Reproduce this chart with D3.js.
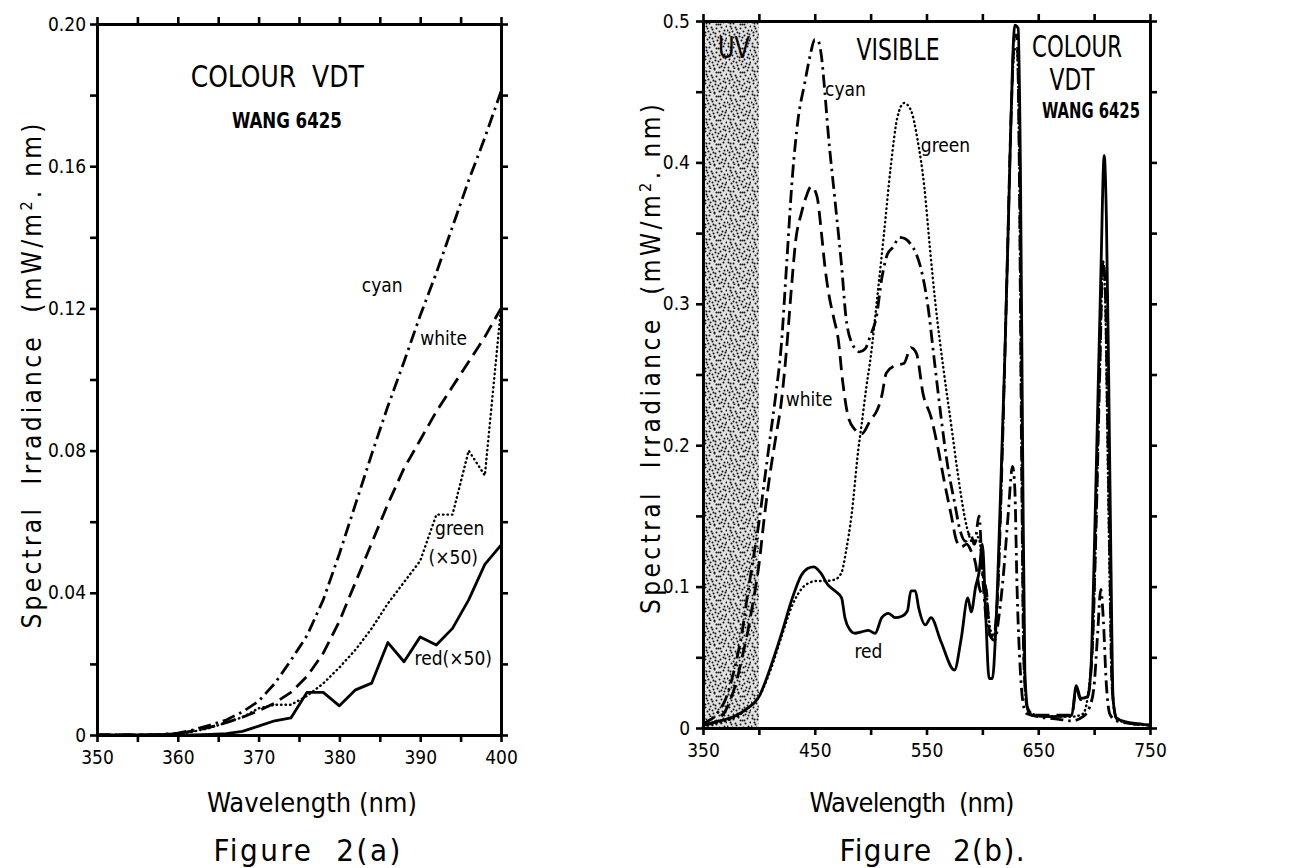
<!DOCTYPE html>
<html>
<head>
<meta charset="utf-8">
<script src="https://cdn.jsdelivr.net/npm/d3@7"></script>
<style>
  body { margin: 0; background: #fff; }
  text { font-family: 'DejaVu Sans Condensed', 'DejaVu Sans', sans-serif; font-stretch: condensed; fill: #000; }
</style>
</head>
<body>
<div id="chart"></div>
<script>
// ---------- Figure 2(a) data : 350-400 nm ----------
var wlA = [350,352,354,356,358,360,362,364,366,368,370,372,374,376,378,380,382,384,386,388,390,392,394,396,398,400];
var cyanA  = [0,0,0,0,0.0002,0.0005,0.0015,0.0028,0.0042,0.0065,0.0095,0.0145,0.021,0.028,0.038,0.051,0.065,0.079,0.0925,0.105,0.118,0.130,0.143,0.156,0.168,0.181];
var whiteA = [0,0,0,0,0.0001,0.0004,0.0012,0.0022,0.0035,0.005,0.0068,0.009,0.012,0.0165,0.023,0.032,0.043,0.054,0.065,0.075,0.083,0.091,0.098,0.105,0.112,0.120];
var greenA = [0,0,0,0,0.0001,0.0003,0.001,0.002,0.0035,0.005,0.0075,0.0085,0.0085,0.011,0.0145,0.019,0.024,0.030,0.037,0.043,0.049,0.062,0.062,0.080,0.073,0.120];
var redA   = [0,0,0,0,0,0,0,0.0002,0.0004,0.001,0.0025,0.004,0.0048,0.012,0.012,0.0082,0.0127,0.0146,0.026,0.0206,0.0276,0.0253,0.030,0.038,0.048,0.0534];

var xTicksA = [350,355,360,365,370,375,380,385,390,395,400];
var xLabelsA = ["350","","360","","370","","380","","390","","400"];
var yTicksA = [0,0.02,0.04,0.06,0.08,0.10,0.12,0.14,0.16,0.18,0.20];
var yLabelsA = ["0","","0.04","","0.08","","0.12","","0.16","","0.20"];

// ---------- Figure 2(b) data : 350-750 nm, [nm, value] ----------
var cyanB = [[350,0.003],[355,0.005],[360,0.008],[365,0.013],[370,0.02],[375,0.032],[380,0.048],[385,0.068],[390,0.095],[395,0.12],
  [400,0.145],[405,0.175],[410,0.205],[415,0.235],[420,0.27],[425,0.33],[430,0.39],[435,0.43],[441,0.456],[446,0.476],
  [450,0.487],[453,0.486],[456,0.475],[459,0.45],[462,0.421],[468,0.374],[474,0.327],[478,0.29],[484,0.271],[490,0.266],
  [495,0.268],[500,0.278],[505,0.29],[510,0.318],[515,0.335],[520,0.34],[526,0.347],[531,0.346],[536,0.342],[541,0.335],
  [545,0.325],[551,0.3],[557,0.26],[563,0.22],[569,0.185],[575,0.16],[580,0.14],[585,0.132],[589,0.138],[593,0.13],
  [597,0.15],[600,0.11],[603,0.08],[607,0.065],[611,0.062],[615,0.08],[619,0.11],[623,0.15],[627,0.185],[629,0.17],
  [631,0.1],[634,0.04],[637,0.015],[640,0.01],[650,0.008],[670,0.006],[680,0.005],[690,0.008],[696,0.015],[700,0.03],
  [703,0.065],[706,0.098],[708,0.08],[711,0.03],[714,0.01],[720,0.005],[735,0.003],[750,0.002]];

var whiteB = [[350,0.002],[360,0.004],[365,0.007],[370,0.012],[375,0.021],[380,0.033],[385,0.05],[390,0.068],[395,0.09],[400,0.115],
  [405,0.15],[410,0.18],[415,0.205],[420,0.23],[425,0.27],[429,0.31],[433,0.345],[438,0.364],[442,0.375],[447,0.383],
  [452,0.376],[456,0.35],[459,0.327],[463,0.305],[467,0.29],[471,0.275],[475,0.245],[480,0.22],[486,0.211],[492,0.208],
  [500,0.218],[506,0.225],[510,0.235],[514,0.251],[521,0.256],[530,0.258],[536,0.269],[541,0.265],[547,0.236],[554,0.22],
  [560,0.199],[566,0.174],[572,0.151],[577,0.132],[581,0.128],[586,0.13],[590,0.125],[594,0.116],[597,0.1],[600,0.095],
  [603,0.1],[607,0.065],[610,0.065],[614,0.1],[618,0.2],[622,0.32],[626,0.44],[629,0.49],[631,0.49],[633,0.4],
  [635,0.2],[637,0.05],[640,0.015],[645,0.01],[650,0.009],[680,0.009],[684,0.028],[688,0.02],[694,0.022],[698,0.05],
  [702,0.15],[705,0.25],[708,0.33],[710,0.31],[712,0.22],[714,0.12],[716,0.03],[720,0.007],[735,0.003],[750,0.002]];

var greenB = [[350,0.001],[360,0.003],[370,0.005],[380,0.008],[390,0.014],[400,0.022],[410,0.04],[420,0.064],[430,0.087],[440,0.1],
  [446,0.103],[452,0.104],[460,0.104],[468,0.105],[474,0.11],[478,0.125],[483,0.151],[489,0.197],[492,0.215],[496,0.24],
  [500,0.262],[506,0.305],[512,0.35],[518,0.397],[524,0.432],[530,0.442],[536,0.437],[542,0.416],[548,0.383],[553,0.34],
  [558,0.3],[565,0.255],[572,0.215],[578,0.18],[584,0.15],[589,0.134],[593,0.13],[596,0.135],[598,0.13],[600,0.11],
  [603,0.1],[607,0.07],[610,0.065],[614,0.1],[618,0.2],[622,0.32],[626,0.44],[629,0.48],[631,0.48],[633,0.4],
  [635,0.2],[637,0.05],[640,0.015],[645,0.01],[650,0.009],[680,0.008],[690,0.01],[698,0.05],[702,0.15],[705,0.25],
  [708,0.33],[710,0.3],[712,0.2],[714,0.1],[716,0.03],[720,0.006],[735,0.003],[750,0.002]];

var redB = [[350,0.002],[360,0.004],[370,0.006],[380,0.009],[390,0.014],[400,0.022],[410,0.042],[420,0.066],[430,0.092],[438,0.108],
  [444,0.113],[449,0.114],[455,0.11],[462,0.101],[468,0.097],[474,0.092],[477,0.078],[481,0.07],[486,0.067],[492,0.068],
  [498,0.069],[504,0.067],[510,0.078],[516,0.081],[522,0.078],[528,0.079],[533,0.083],[536,0.097],[540,0.097],[543,0.085],
  [549,0.073],[554,0.078],[563,0.061],[575,0.041],[581,0.063],[587,0.092],[590,0.082],[594,0.1],[597,0.11],[600,0.13],
  [603,0.08],[606,0.035],[609,0.035],[612,0.07],[616,0.16],[620,0.26],[624,0.38],[627,0.47],[629,0.497],[632,0.495],
  [634,0.4],[636,0.2],[638,0.04],[641,0.012],[645,0.009],[660,0.008],[680,0.009],[684,0.03],[688,0.021],[694,0.022],
  [697,0.04],[700,0.12],[703,0.22],[706,0.32],[709,0.405],[711,0.36],[713,0.25],[715,0.12],[717,0.02],[720,0.007],
  [730,0.004],[740,0.003],[750,0.002]];

var xTicksB = [350,400,450,500,550,600,650,700,750];
var xLabelsB = ["350","","450","","550","","650","","750"];
var yTicksB = [0,0.05,0.1,0.15,0.2,0.25,0.3,0.35,0.4,0.45,0.5];
var yLabelsB = ["0","","0.1","","0.2","","0.3","","0.4","","0.5"];
var uvBand = [350, 400];

// text annotations, placed in data units (len = rendered width in px)
var notesA = [
  {t: "COLOUR  VDT", nm: 372.3, v: 0.1823, size: 31, len: 173},
  {t: "WANG 6425", nm: 373.5, v: 0.1707, size: 22, len: 110, bold: true},
  {t: "cyan", nm: 385.3, v: 0.1246, size: 19},
  {t: "white", nm: 392.9, v: 0.1097, size: 19},
  {t: "green", nm: 394.9, v: 0.0563, size: 19},
  {t: "(\u00d750)", nm: 394.1, v: 0.0481, size: 19},
  {t: "red(\u00d750)", nm: 394.1, v: 0.0197, size: 19}
];
var notesB = [
  {t: "UV", nm: 377.7, v: 0.4738, size: 30, len: 32},
  {t: "VISIBLE", nm: 524.5, v: 0.4724, size: 30, len: 83},
  {t: "COLOUR", nm: 684.7, v: 0.4745, size: 30, len: 90},
  {t: "VDT", nm: 680.2, v: 0.4512, size: 30, len: 45},
  {t: "WANG 6425", nm: 697.2, v: 0.4314, size: 22, len: 98, bold: true},
  {t: "cyan", nm: 477.5, v: 0.447, size: 19},
  {t: "green", nm: 567, v: 0.4074, size: 19},
  {t: "white", nm: 445, v: 0.2277, size: 19},
  {t: "red", nm: 498, v: 0.0495, size: 19}
];

// line styles for the four screens
var styles = {
  cyan:  {dash: "13,5,2.5,5", cap: "butt", w: 2.8},
  white: {dash: "14,7", cap: "butt", w: 2.8},
  green: {dash: "0.5,4", cap: "round", w: 2.4},
  red:   {dash: null, cap: "butt", w: 2.8}
};

var svg = d3.select("#chart").append("svg")
    .attr("width", 1289)
    .attr("height", 868);

// stipple pattern for the UV band
var stippleDots = [[1,1],[6,2],[11,0],[15,3],[20,1],[23,5],[3,5],[8,6],[13,7],[18,6],[0,9],[5,10],[10,11],[16,10],[21,9],
  [2,14],[7,13],[12,15],[17,14],[22,13],[4,18],[9,17],[14,19],[19,18],[23,17],[1,22],[6,21],[11,23],[16,22],[21,22],
  [3,2],[13,3],[9,8],[20,12],[6,16],[15,16],[10,20],[18,21],[2,11],[12,12],[22,19],[7,23],[17,3],[4,7]];
var pat = svg.append("defs").append("pattern")
    .attr("id", "stipple")
    .attr("patternUnits", "userSpaceOnUse")
    .attr("width", 24).attr("height", 24);
pat.append("rect").attr("width", 24).attr("height", 24).attr("fill", "#e2e2e2");
pat.selectAll("circle").data(stippleDots).enter().append("circle")
    .attr("cx", function(d) { return d[0] + 0.5; })
    .attr("cy", function(d) { return d[1] + 0.5; })
    .attr("r", 1.0)
    .attr("fill", "#111");

function drawAxes(g, x, y, xt, xl, yt, yl, yPad) {
  var w = x.range()[1], h = y.range()[0];
  var bottom = g.append("g").attr("transform", "translate(0," + h + ")")
      .call(d3.axisBottom(x).tickValues(xt).tickSize(7).tickSizeOuter(0).tickPadding(9)
        .tickFormat(function(d, i) { return xl[i]; }));
  var top = g.append("g")
      .call(d3.axisTop(x).tickValues(xt).tickSize(7).tickSizeOuter(0).tickFormat(""));
  var left = g.append("g")
      .call(d3.axisLeft(y).tickValues(yt).tickSize(7).tickSizeOuter(0).tickPadding(yPad)
        .tickFormat(function(d, i) { return yl[i]; }));
  var right = g.append("g").attr("transform", "translate(" + w + ",0)")
      .call(d3.axisRight(y).tickValues(yt).tickSize(7).tickSizeOuter(0).tickFormat(""));
  [bottom, top, left, right].forEach(function(a) {
    a.select(".domain").attr("stroke", "#000").attr("stroke-width", 3);
    a.selectAll(".tick line").attr("stroke", "#000").attr("stroke-width", 2.6);
    a.selectAll("text").style("font-size", "19px").attr("font-family", null);
  });
}

function drawSeries(g, data, st, curve) {
  g.append("path")
      .datum(data)
      .attr("fill", "none")
      .attr("stroke", "#000")
      .attr("stroke-width", st.w)
      .attr("stroke-dasharray", st.dash)
      .attr("stroke-linecap", st.cap)
      .attr("stroke-linejoin", "round")
      .attr("d", curve);
}

function drawNotes(g, notes, x, y) {
  notes.forEach(function(n) {
    var t = g.append("text")
      .attr("x", x(n.nm))
      .attr("y", y(n.v))
      .attr("text-anchor", "middle")
      .style("font-size", n.size + "px")
      .style("font-weight", n.bold ? "bold" : "normal")
      .style("white-space", "pre")
      .text(n.t);
    if (n.len) t.attr("textLength", n.len).attr("lengthAdjust", "spacingAndGlyphs");
  });
}

function yTitle(g, cx, cy, len) {
  var t = g.append("text")
      .attr("transform", "translate(" + cx + "," + cy + ") rotate(-90)")
      .attr("text-anchor", "middle")
      .attr("textLength", len)
      .attr("lengthAdjust", "spacing")
      .style("font-size", "26px")
      .style("white-space", "pre");
  t.append("tspan").text("Spectral  Irradiance  (mW/m");
  t.append("tspan").attr("baseline-shift", "super").style("font-size", "16px").text("2");
  t.append("tspan").text(". nm)");
}

// ---------- panel (a) ----------
var gA = svg.append("g").attr("transform", "translate(97,24)");
var xA = d3.scaleLinear().domain([350, 400]).range([0, 404]);
var yA = d3.scaleLinear().domain([0, 0.2]).range([711, 0]);

var lineA = function(vals) {
  return d3.line()
    .x(function(d, i) { return xA(wlA[i]); })
    .y(function(d) { return yA(d); })(vals);
};
drawSeries(gA, cyanA, styles.cyan, lineA);
drawSeries(gA, whiteA, styles.white, lineA);
drawSeries(gA, greenA, styles.green, lineA);
drawSeries(gA, redA, styles.red, lineA);
drawAxes(gA, xA, yA, xTicksA, xLabelsA, yTicksA, yLabelsA, 4);
drawNotes(gA, notesA, xA, yA);

// ---------- panel (b) ----------
var gB = svg.append("g").attr("transform", "translate(703,21)");
var xB = d3.scaleLinear().domain([350, 750]).range([0, 447]);
var yB = d3.scaleLinear().domain([0, 0.5]).range([707, 0]);

gB.append("rect")
    .attr("x", xB(uvBand[0]))
    .attr("y", yB(0.5))
    .attr("width", xB(uvBand[1]) - xB(uvBand[0]))
    .attr("height", yB(0) - yB(0.5))
    .attr("fill", "url(#stipple)");

var lineB = d3.line()
    .curve(d3.curveMonotoneX)
    .x(function(d) { return xB(d[0]); })
    .y(function(d) { return yB(d[1]); });
drawSeries(gB, cyanB, styles.cyan, lineB);
drawSeries(gB, whiteB, styles.white, lineB);
drawSeries(gB, greenB, styles.green, lineB);
drawSeries(gB, redB, styles.red, lineB);
drawAxes(gB, xB, yB, xTicksB, xLabelsB, yTicksB, yLabelsB, 6);
drawNotes(gB, notesB, xB, yB);

// ---------- axis titles and captions ----------
yTitle(svg, 41, 376, 505);
yTitle(svg, 660, 359, 510);

svg.append("text").attr("x", 312).attr("y", 812).attr("text-anchor", "middle")
    .attr("textLength", 210).attr("lengthAdjust", "spacing")
    .style("font-size", "27px").text("Wavelength (nm)");
svg.append("text").attr("x", 912).attr("y", 812).attr("text-anchor", "middle")
    .attr("textLength", 205).attr("lengthAdjust", "spacing")
    .style("font-size", "27px").style("white-space", "pre").text("Wavelength  (nm)");
svg.append("text").attr("x", 307).attr("y", 861).attr("text-anchor", "middle")
    .attr("textLength", 187).attr("lengthAdjust", "spacing")
    .style("font-size", "31px").style("white-space", "pre").text("Figure  2(a)");
svg.append("text").attr("x", 932).attr("y", 861).attr("text-anchor", "middle")
    .attr("textLength", 185).attr("lengthAdjust", "spacing")
    .style("font-size", "31px").style("white-space", "pre").text("Figure  2(b).");
</script>
</body>
</html>
